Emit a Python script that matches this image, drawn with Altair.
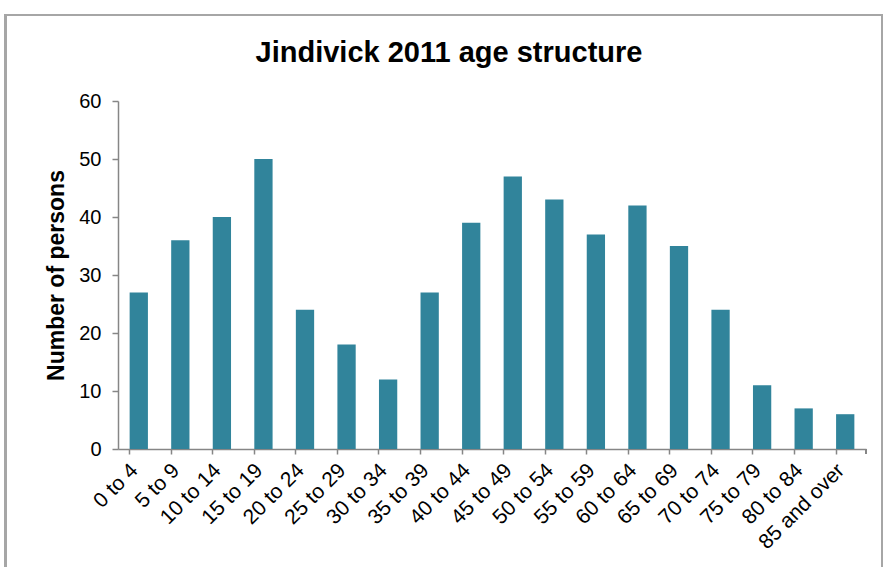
import altair as alt
import pandas as pd

categories = ["0 to 4", "5 to 9", "10 to 14", "15 to 19", "20 to 24", "25 to 29",
              "30 to 34", "35 to 39", "40 to 44", "45 to 49", "50 to 54", "55 to 59",
              "60 to 64", "65 to 69", "70 to 74", "75 to 79", "80 to 84", "85 and over"]
persons = [27, 36, 40, 50, 24, 18, 12, 27, 39, 47, 43, 37, 42, 35, 24, 11, 7, 6]
y_ticks = [0, 10, 20, 30, 40, 50, 60]

df = pd.DataFrame({"age": categories, "persons": persons})

W, H = 748, 348
FONT = "Liberation Sans"
AXIS_COLOR = "#868686"

bars = alt.Chart(df).mark_bar(color="#31849B").encode(
    x=alt.X("age:N", sort=categories,
            scale=alt.Scale(paddingInner=0.56, paddingOuter=0.28),
            axis=alt.Axis(title=None, labelAngle=-45, labelAlign="right",
                          labelBaseline="middle", labelFont=FONT, labelFontSize=21,
                          labelColor="black", labelPadding=13,
                          bandPosition=0, labelOffset=-4,
                          domainColor=AXIS_COLOR, tickColor=AXIS_COLOR,
                          tickSize=5, domainWidth=1.5, tickWidth=1.5)),
    y=alt.Y("persons:Q",
            scale=alt.Scale(domain=[0, 60]),
            axis=alt.Axis(title="Number of persons", values=y_ticks, grid=False,
                          titleFont=FONT, titleFontSize=23, titleFontWeight="bold",
                          titleColor="black", titlePadding=10,
                          labelFont=FONT, labelFontSize=20, labelColor="black",
                          labelPadding=11,
                          domainColor=AXIS_COLOR, tickColor=AXIS_COLOR,
                          tickSize=6, domainWidth=1.5, tickWidth=1.5)),
)

end_tick = alt.Chart(df).mark_rule(color=AXIS_COLOR, strokeWidth=1.5).encode(
    x=alt.value(W), y=alt.value(H), y2=alt.value(H + 5)
)

frame = alt.Chart(df).mark_rect(fill=None, stroke="#A6A6A6", strokeWidth=2,
                                clip=False).encode(
    x=alt.value(-112.5), x2=alt.value(W + 16), y=alt.value(-86), y2=alt.value(H + 200)
)

chart = alt.layer(frame, bars, end_tick).properties(
    width=W, height=H,
    title=alt.TitleParams("Jindivick 2011 age structure", font=FONT, fontSize=29,
                          fontWeight="bold", color="black", anchor="middle",
                          dx=-43, offset=-54),
    autosize=alt.AutoSizeParams(type="none"),
    padding={"left": 118, "top": 101, "right": 19, "bottom": 118},
).configure_view(stroke=None)

chart.save("out.html", embed_options={"renderer": "svg", "actions": False})
